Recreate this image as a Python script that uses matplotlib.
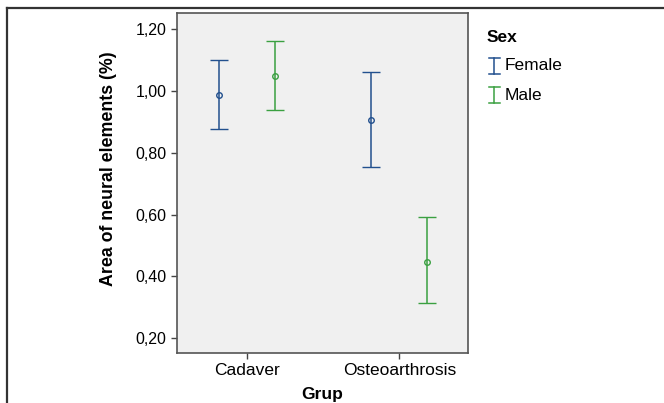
import matplotlib
matplotlib.use("Agg")
import matplotlib.pyplot as plt
from matplotlib.lines import Line2D
import numpy as np

plt.rcParams['font.family'] = ['Liberation Sans', 'DejaVu Sans']

groups = ["Cadaver", "Osteoarthrosis"]
sexes = ["Female", "Male"]
means = {"Female": [0.986, 0.906], "Male": [1.049, 0.446]}
lower = {"Female": [0.876, 0.753], "Male": [0.938, 0.313]}
upper = {"Female": [1.099, 1.060], "Male": [1.162, 0.591]}
yticks = [0.20, 0.40, 0.60, 0.80, 1.00, 1.20]
ytick_labels = ["0,20", "0,40", "0,60", "0,80", "1,00", "1,20"]
colors = {"Female": "#22508e", "Male": "#3aa041"}
offsets = {"Female": -0.183, "Male": 0.183}

W, H = 664, 403
fig = plt.figure(figsize=(W / 100, H / 100), dpi=100)
ax = fig.add_axes([177 / W, 1 - 353 / H, (468 - 177) / W, (353 - 13) / H])
ax.set_facecolor("#f0f0f0")

x = np.arange(len(groups))
for s in sexes:
    m = np.array(means[s])
    lo = m - np.array(lower[s])
    hi = np.array(upper[s]) - m
    ax.errorbar(x + offsets[s], m, yerr=[lo, hi], fmt="o", color=colors[s],
                mfc="none", mec=colors[s], ms=4, mew=1.0, elinewidth=1.1,
                capsize=6.8, capthick=1.1)

ax.set_xlim(-0.456, 1.449)
ax.set_ylim(0.152, 1.252)
ax.set_xticks(x)
ax.set_xticklabels(groups, fontsize=12.5)
ax.set_yticks(yticks)
ax.set_yticklabels(ytick_labels, fontsize=11.5)
ax.tick_params(direction="out", length=4, width=1, color="#444444")
ax.tick_params(axis="x", pad=3)
for sp in ax.spines.values():
    sp.set_color("#555555")
    sp.set_linewidth(1.2)
ax.set_xlabel("Grup", fontsize=12.5, fontweight="bold", labelpad=7)
ax.set_ylabel("Area of neural elements (%)", fontsize=12.8, fontweight="bold")
ax.yaxis.set_label_coords(-0.237, 0.541)
ax.yaxis.label.set_va("center")

# legend drawn manually
fig.text(487 / W, 1 - 37 / H, "Sex", fontsize=12.5, fontweight="bold", va="center", ha="left")
for i, s in enumerate(sexes):
    yc = 66 + 29 * i
    xc = 494
    c = colors[s]
    fig.add_artist(Line2D([xc / W, xc / W], [1 - (yc - 8) / H, 1 - (yc + 8) / H], color=c, lw=1.1))
    fig.add_artist(Line2D([(xc - 5.5) / W, (xc + 5.5) / W], [1 - (yc - 8) / H] * 2, color=c, lw=1.1))
    fig.add_artist(Line2D([(xc - 5.5) / W, (xc + 5.5) / W], [1 - (yc + 8) / H] * 2, color=c, lw=1.1))
    fig.text(505 / W, 1 - yc / H, s, fontsize=12.5, va="center", ha="left")

# outer frame (top and left)
fig.add_artist(Line2D([7 / W, 1], [1 - 8 / H, 1 - 8 / H], color="#333333", lw=1.6))
fig.add_artist(Line2D([7 / W, 7 / W], [0, 1 - 8 / H], color="#333333", lw=1.6))

fig.savefig("out.png", dpi=100)
